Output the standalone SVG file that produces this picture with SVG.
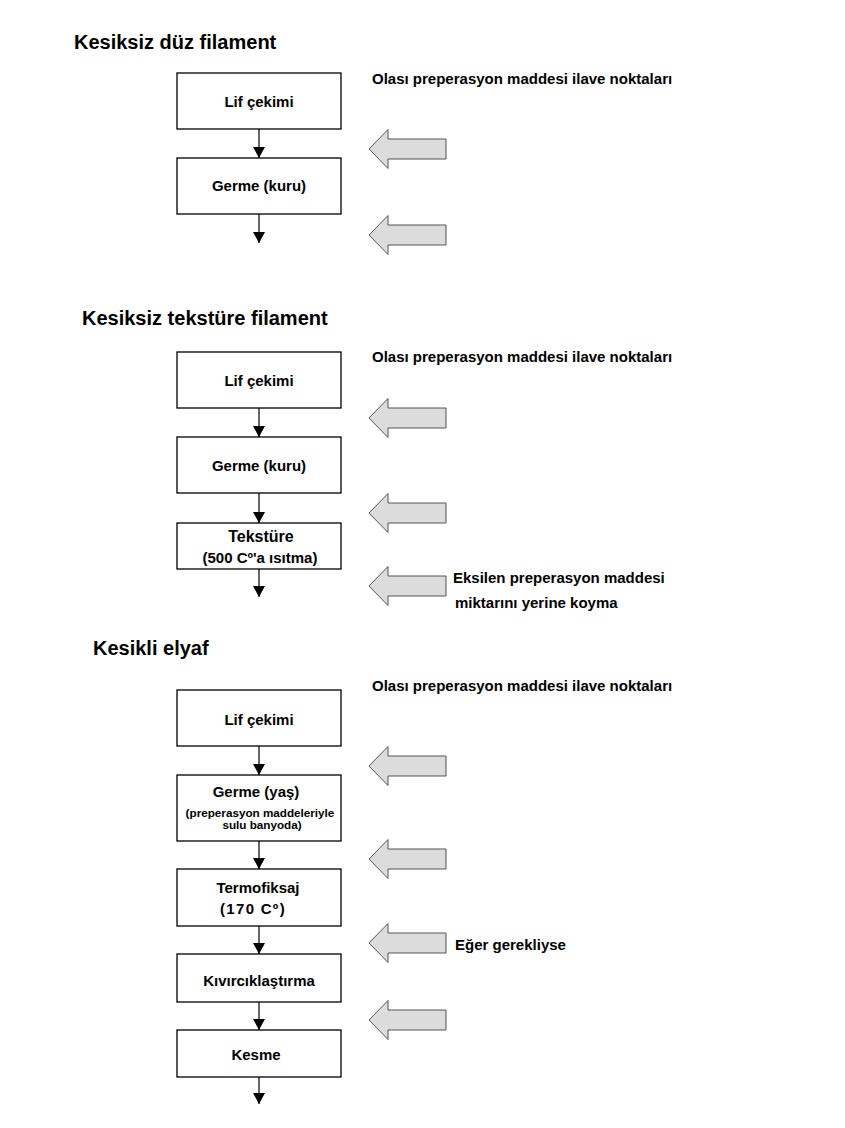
<svg xmlns="http://www.w3.org/2000/svg" xmlns:xlink="http://www.w3.org/1999/xlink" width="845" height="1128" viewBox="0 0 845 1128">
<style>
text{font-family:"Liberation Sans",Arial,sans-serif;font-weight:bold;fill:#000}
.title{font-size:20px}
.lbl{font-size:15px;text-anchor:middle}
.sm{font-size:12px;text-anchor:middle}
.note{font-size:15px}
.box{fill:#fff;stroke:#000;stroke-width:1.3}
.con{stroke:#000;stroke-width:1.2;fill:none}
.blk{fill:#dcdcdc;stroke:#555;stroke-width:1}
</style>
<defs>
<marker id="ah" markerUnits="userSpaceOnUse" markerWidth="12" markerHeight="12" refX="11" refY="6" orient="auto">
<path d="M0,0 L11,6 L0,12 Z" fill="#000"/>
</marker>
<path id="bigarrow" class="blk" d="M0,0 L19,-19.5 L19,-10 L77,-10 L77,10 L19,10 L19,19.5 Z"/>
</defs>
<rect width="845" height="1128" fill="#fff"/>

<!-- Section 1 -->
<text class="title" x="74" y="49">Kesiksiz düz filament</text>
<text class="note" x="372" y="84">Olası preperasyon maddesi ilave noktaları</text>
<g id="s1-lif"><rect class="box" x="177" y="73" width="164" height="56"/><text class="lbl" x="259" y="107">Lif çekimi</text></g>
<g id="s1-germe"><rect class="box" x="177" y="158" width="164" height="56"/><text class="lbl" x="259" y="191">Germe (kuru)</text></g>
<g id="s1-add"><use href="#bigarrow" x="369" y="149"/><use href="#bigarrow" x="369" y="235"/></g>

<!-- Section 2 -->
<text class="title" x="82" y="325">Kesiksiz tekstüre filament</text>
<text class="note" x="372" y="362">Olası preperasyon maddesi ilave noktaları</text>
<g id="s2-lif"><rect class="box" x="177" y="352" width="164" height="56"/><text class="lbl" x="259" y="386">Lif çekimi</text></g>
<g id="s2-germe"><rect class="box" x="177" y="437" width="164" height="56"/><text class="lbl" x="259" y="471">Germe (kuru)</text></g>
<g id="s2-tekstur"><rect class="box" x="177" y="523" width="164" height="46"/><text class="lbl" x="261" y="542" style="font-size:16px">Tekstüre</text><text class="lbl" x="260" y="563">(500 Cº'a ısıtma)</text></g>
<g id="s2-add"><use href="#bigarrow" x="369" y="418"/><use href="#bigarrow" x="369" y="513"/><use href="#bigarrow" x="369" y="586"/></g>
<g id="s2-note"><text class="note" x="453" y="583">Eksilen preperasyon maddesi</text><text class="note" x="455" y="608">miktarını yerine koyma</text></g>

<!-- Section 3 -->
<text class="title" x="93" y="655">Kesikli elyaf</text>
<text class="note" x="372" y="691">Olası preperasyon maddesi ilave noktaları</text>
<g id="s3-lif"><rect class="box" x="177" y="690" width="164" height="56"/><text class="lbl" x="259" y="725">Lif çekimi</text></g>
<g id="s3-germe"><rect class="box" x="177" y="775" width="164" height="66"/><text class="lbl" x="256" y="797">Germe (yaş)</text><text class="sm" x="260" y="817" style="font-size:11.7px">(preperasyon maddeleriyle</text><text class="sm" x="262" y="829" style="font-size:11.7px">sulu banyoda)</text></g>
<g id="s3-termo"><rect class="box" x="177" y="869" width="164" height="57"/><text class="lbl" x="258" y="893">Termofiksaj</text><text class="lbl" x="253" y="914" style="letter-spacing:1.3px">(170 Cº)</text></g>
<g id="s3-kivir"><rect class="box" x="177" y="954" width="164" height="48"/><text class="lbl" x="259" y="986">Kıvırcıklaştırma</text></g>
<g id="s3-kesme"><rect class="box" x="177" y="1030" width="164" height="47"/><text class="lbl" x="256" y="1060">Kesme</text></g>
<g id="s3-add"><use href="#bigarrow" x="369" y="766"/><use href="#bigarrow" x="369" y="859"/><use href="#bigarrow" x="369" y="943"/><use href="#bigarrow" x="369" y="1020"/></g>
<text class="note" x="455" y="950">Eğer gerekliyse</text>

<!-- Connectors -->
<g id="connectors">
<line class="con" x1="259" y1="129" x2="259" y2="158" marker-end="url(#ah)"/>
<line class="con" x1="259" y1="214" x2="259" y2="243" marker-end="url(#ah)"/>
<line class="con" x1="259" y1="408" x2="259" y2="437" marker-end="url(#ah)"/>
<line class="con" x1="259" y1="493" x2="259" y2="523" marker-end="url(#ah)"/>
<line class="con" x1="259" y1="569" x2="259" y2="597" marker-end="url(#ah)"/>
<line class="con" x1="259" y1="746" x2="259" y2="775" marker-end="url(#ah)"/>
<line class="con" x1="259" y1="841" x2="259" y2="869" marker-end="url(#ah)"/>
<line class="con" x1="259" y1="926" x2="259" y2="954" marker-end="url(#ah)"/>
<line class="con" x1="259" y1="1002" x2="259" y2="1030" marker-end="url(#ah)"/>
<line class="con" x1="259" y1="1077" x2="259" y2="1104" marker-end="url(#ah)"/>
</g>
</svg>
